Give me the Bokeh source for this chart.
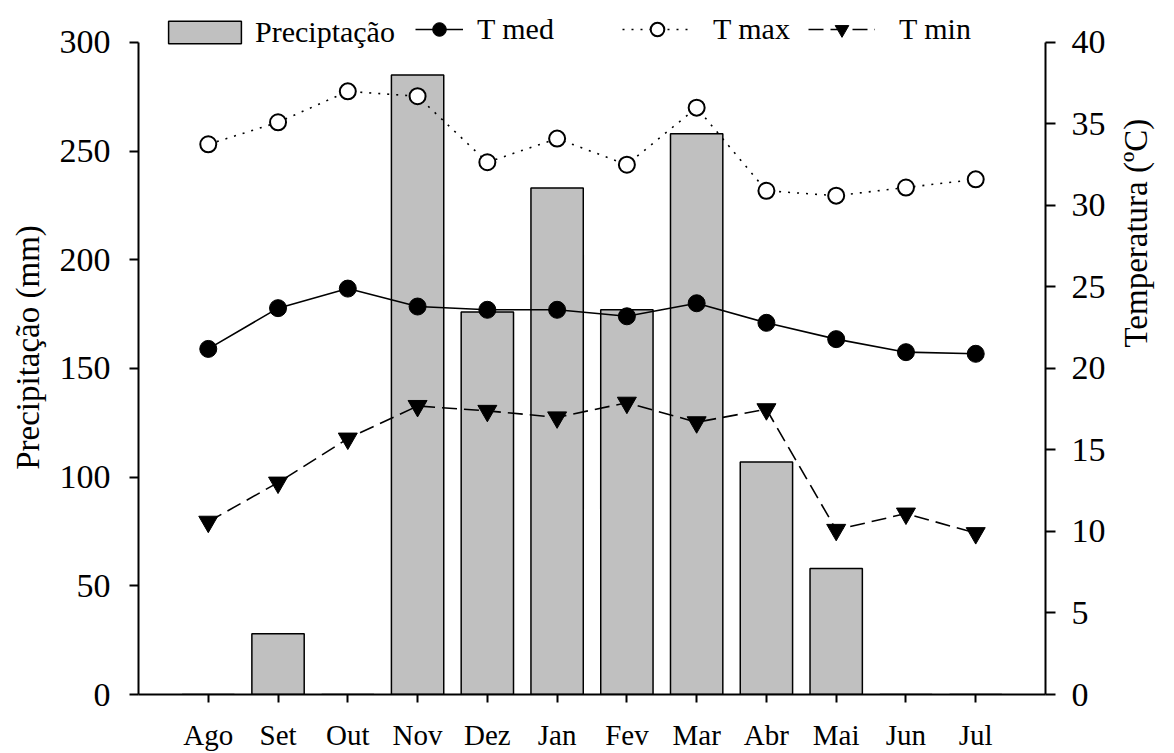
import math
from bokeh.plotting import figure
from bokeh.models import (Range1d, LinearAxis, FixedTicker, Legend, LegendItem)
from bokeh.embed import file_html
from bokeh.resources import INLINE

months = ["Ago", "Set", "Out", "Nov", "Dez", "Jan", "Fev", "Mar", "Abr", "Mai", "Jun", "Jul"]
precip = [0, 28, 0, 285, 176, 233, 177, 258, 107, 58, 0, 0]
t_med = [21.2, 23.7, 24.9, 23.8, 23.6, 23.6, 23.2, 24.0, 22.8, 21.8, 21.0, 20.9]
t_max = [33.75, 35.1, 37.0, 36.7, 32.65, 34.1, 32.5, 36.0, 30.9, 30.6, 31.1, 31.6]
t_min = [10.6, 13.0, 15.7, 17.7, 17.4, 17.0, 17.9, 16.7, 17.5, 10.1, 11.1, 9.9]
p_ticks = [0, 50, 100, 150, 200, 250, 300]
t_ticks = [0, 5, 10, 15, 20, 25, 30, 35, 40]

FONT = "Liberation Serif"
W, H = 1174, 753
LEFT, RIGHT, TOP, BOTTOM = 138, 127, 0, 58
FRAME_H = H - TOP - BOTTOM
HEAD = 42  # free band above the axes for the legend
p_max, t_max_axis = 300, 40
y_end = p_max * FRAME_H / (FRAME_H - HEAD)
t_end = t_max_axis * FRAME_H / (FRAME_H - HEAD)

x = list(range(len(months)))

p = figure(width=W, height=H, output_backend="svg", toolbar_location=None,
           x_range=Range1d(-1, 12), y_range=Range1d(0, y_end),
           min_border_left=LEFT, min_border_right=RIGHT,
           min_border_top=TOP, min_border_bottom=BOTTOM)
p.outline_line_color = None
p.xgrid.visible = False
p.ygrid.visible = False
p.extra_y_ranges = {"temp": Range1d(0, t_end)}

bars = p.vbar(x=x, top=precip, width=0.75, bottom=0, fill_color="#c0c0c0",
              line_color="black", line_width=1.5)

r_med_l = p.line(x, t_med, y_range_name="temp", line_color="black", line_width=1.6)
r_max_l = p.line(x, t_max, y_range_name="temp", line_color="black", line_width=1.6,
                 line_dash="2 7")
r_min_l = p.line(x, t_min, y_range_name="temp", line_color="black", line_width=1.6,
                 line_dash="15 7")
r_med_m = p.scatter(x, t_med, y_range_name="temp", marker="circle", size=17,
                    fill_color="black", line_color="black")
r_max_m = p.scatter(x, t_max, y_range_name="temp", marker="circle", size=16,
                    fill_color="white", line_color="black", line_width=2)
r_min_m = p.scatter(x, t_min, y_range_name="temp", marker="inverted_triangle", size=19,
                    fill_color="black", line_color="black")

def style_axis(ax, tick_size):
    ax.axis_line_width = 2
    ax.major_tick_line_width = 2
    ax.major_tick_in = 0
    ax.minor_tick_line_color = None
    ax.major_label_text_font = FONT
    ax.major_label_text_font_size = tick_size
    ax.major_label_text_color = "black"
    ax.axis_label_text_font = FONT
    ax.axis_label_text_font_style = "normal"
    ax.axis_label_text_font_size = "33px"
    ax.axis_label_text_color = "black"

# x axis
xa = p.xaxis[0]
xa.ticker = FixedTicker(ticks=x)
xa.major_label_overrides = {i: m for i, m in enumerate(months)}
style_axis(xa, "29px")
xa.major_tick_out = 8
xa.major_label_standoff = 16

# left axis
ya = p.yaxis[0]
ya.ticker = FixedTicker(ticks=p_ticks)
ya.bounds = (0, p_max)
style_axis(ya, "34px")
ya.major_tick_out = 9
ya.major_label_standoff = 19
ya.axis_label = "Precipitação (mm)"
ya.axis_label_standoff = 11

# right axis
ra = LinearAxis(y_range_name="temp", ticker=FixedTicker(ticks=t_ticks), bounds=(0, t_max_axis))
style_axis(ra, "34px")
ra.major_tick_out = 10
ra.major_label_standoff = 16
ra.axis_label = "Temperatura (ºC)"
ra.axis_label_standoff = 27
try:
    ra.axis_label_orientation = math.pi / 2
except Exception:
    pass
p.add_layout(ra, "right")

def make_legend(items, loc, gw, gh, standoff):
    lg = Legend(items=items, location=loc, orientation="horizontal",
                glyph_width=gw, glyph_height=gh, label_standoff=standoff,
                label_height=34,
                label_text_font=FONT, label_text_font_size="30px",
                label_text_color="black", padding=0, margin=0, spacing=0,
                border_line_color=None, background_fill_alpha=0)
    p.add_layout(lg)

LY = FRAME_H - 30 - 17
make_legend([LegendItem(label="Preciptação", renderers=[bars])], (21, LY - 3), 91, 28, 5)
make_legend([LegendItem(label="T med", renderers=[r_med_l, r_med_m])], (277, LY), 48, 34, 14)
make_legend([LegendItem(label="T max", renderers=[r_max_l, r_max_m])], (484, LY), 70, 34, 21)
make_legend([LegendItem(label="T min", renderers=[r_min_l, r_min_m])], (670, LY), 67, 34, 24)

open("out.html", "w").write(file_html(p, INLINE))
